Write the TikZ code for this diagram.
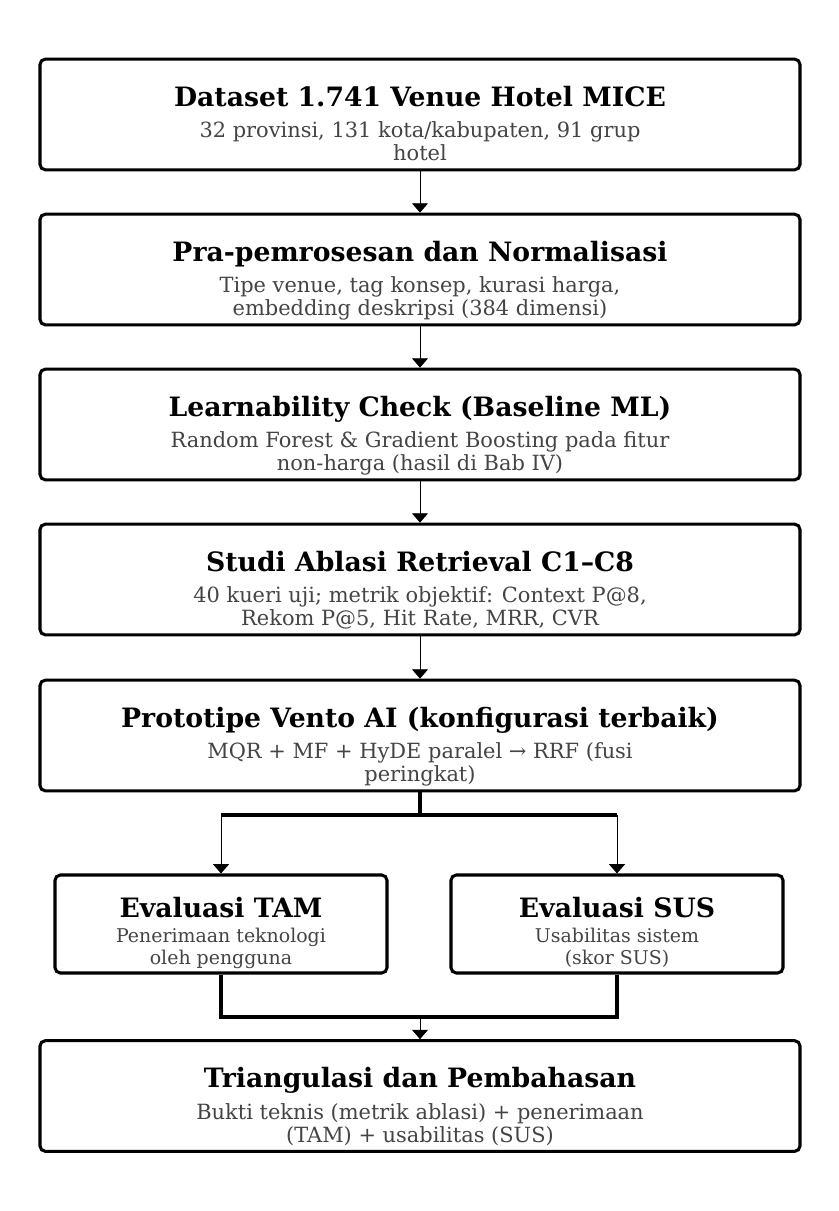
\documentclass[tikz,border=0pt]{standalone}
\usepackage{fontspec}
\setmainfont{DejaVu Serif}
\usetikzlibrary{arrows.meta}
\definecolor{subgray}{HTML}{444444}
\tikzset{
  box/.style={draw=black, line width=2.3pt, rounded corners=4pt, fill=white, inner sep=0pt},
  bigbox/.style={box, minimum width=570pt, minimum height=83pt},
  smallbox/.style={box, minimum width=249pt, minimum height=73.5pt},
  ttl/.style={font=\fontsize{20}{23}\selectfont\bfseries, anchor=base, inner sep=0pt},
  sub/.style={font=\fontsize{15.7}{17.2}\selectfont, text=subgray, align=center, anchor=base, inner sep=0pt},
  smallsub/.style={font=\fontsize{14.2}{16.4}\selectfont, text=subgray, align=center, anchor=base, inner sep=0pt},
  arr/.style={draw=black, line width=0.6pt, -{Triangle[length=7pt,width=12pt]}},
  thickline/.style={draw=black, line width=2.3pt},
}
\begin{document}
\begin{tikzpicture}[x=0.75pt, y=-0.75pt]
\useasboundingbox (0,0) rectangle (839,1211);
% main boxes
\node[bigbox] (b1) at (420,114.5) {};
\node[ttl] (t1) at (420,106) {Dataset 1.741 Venue Hotel MICE};
\node[sub] (s1) at (420,160.5) {32 provinsi, 131 kota/kabupaten, 91 grup\\hotel};

\node[bigbox] (b2) at (420,269.5) {};
\node[ttl] (t2) at (420,261) {Pra-pemrosesan dan Normalisasi};
\node[sub] (s2) at (420,315.5) {Tipe venue, tag konsep, kurasi harga,\\embedding deskripsi (384 dimensi)};

\node[bigbox] (b3) at (420,424.5) {};
\node[ttl] (t3) at (420,416) {Learnability Check (Baseline ML)};
\node[sub] (s3) at (420,470.5) {Random Forest \& Gradient Boosting pada fitur\\non-harga (hasil di Bab IV)};

\node[bigbox] (b4) at (420,579.5) {};
\node[ttl] (t4) at (420,571) {Studi Ablasi Retrieval C1–C8};
\node[sub] (s4) at (420,625.5) {40 kueri uji; metrik objektif: Context P@8,\\Rekom P@5, Hit Rate, MRR, CVR};

\node[bigbox] (b5) at (420,735.5) {};
\node[ttl] (t5) at (420,727) {Prototipe Vento AI (konfigurasi terbaik)};
\node[sub] (s5) at (420,781.5) {MQR + MF + HyDE paralel → RRF (fusi\\peringkat)};

% evaluation boxes
\node[smallbox] (tam) at (221,924) {};
\node[ttl] (t6) at (221,917) {Evaluasi TAM};
\node[smallsub] (s6) at (221,964.5) {Penerimaan teknologi\\oleh pengguna};

\node[smallbox] (sus) at (617,924) {};
\node[ttl] (t7) at (617,917) {Evaluasi SUS};
\node[smallsub] (s7) at (617,964.5) {Usabilitas sistem\\(skor SUS)};

\node[bigbox] (b8) at (420,1096) {};
\node[ttl] (t8) at (420,1087.5) {Triangulasi dan Pembahasan};
\node[sub] (s8) at (420,1142) {Bukti teknis (metrik ablasi) + penerimaan\\(TAM) + usabilitas (SUS)};

% connectors
\draw[arr] (b1.south) -- (b2.north);
\draw[arr] (b2.south) -- (b3.north);
\draw[arr] (b3.south) -- (b4.north);
\draw[arr] (b4.south) -- (b5.north);

\coordinate (sp) at (420,815);
\coordinate (spL) at (221,815);
\coordinate (spR) at (617,815);
\draw[thickline] (b5.south) -- (sp);
\draw[thickline] (spL) -- (spR);
\draw[arr] (spL) -- (tam.north);
\draw[arr] (spR) -- (sus.north);

\coordinate (mj) at (420,1017);
\draw[thickline] (tam.south) |- (mj) -| (sus.south);
\draw[arr] (mj) -- (b8.north);
\end{tikzpicture}
\end{document}
